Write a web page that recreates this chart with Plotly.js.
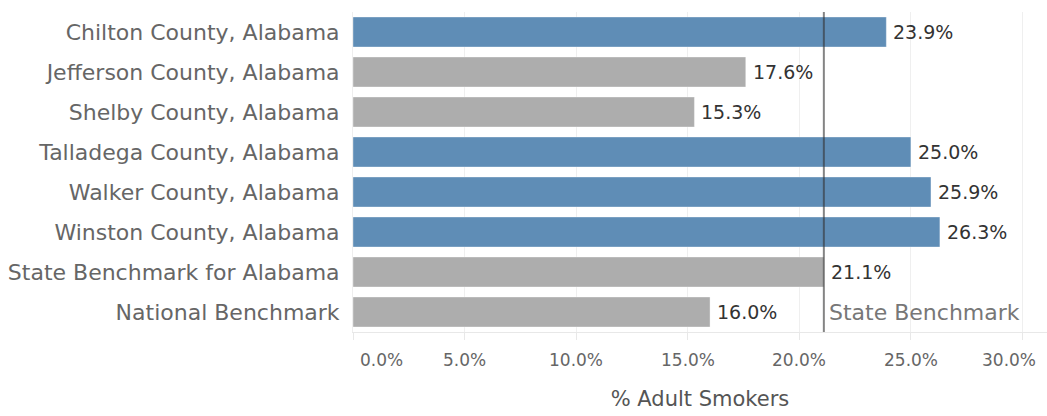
<!DOCTYPE html>
<html>
<head>
<meta charset="utf-8">
<script src="https://cdn.plot.ly/plotly-3.0.1.min.js"></script>
<style>html,body{margin:0;padding:0;background:#fff;}#chart{width:1047px;height:416px;}</style>
</head>
<body>
<div id="chart"></div>
<script>
var categories = [
  "Chilton County, Alabama",
  "Jefferson County, Alabama",
  "Shelby County, Alabama",
  "Talladega County, Alabama",
  "Walker County, Alabama",
  "Winston County, Alabama",
  "State Benchmark for Alabama",
  "National Benchmark"
];
var smokers = [23.9, 17.6, 15.3, 25.0, 25.9, 26.3, 21.1, 16.0];
var stateBenchmark = 21.1;
var tickValues = [0, 5, 10, 15, 20, 25, 30];
var tickLabels = ["0.0%", "5.0%", "10.0%", "15.0%", "20.0%", "25.0%", "30.0%"];

var WIDE = "DejaVu Sans, Open Sans, sans-serif";
var colors = categories.map(function (c, i) {
  return (c.indexOf("County") >= 0 && smokers[i] > stateBenchmark) ? "#5f8db6" : "#adadad";
});

var trace = {
  type: "bar",
  orientation: "h",
  y: categories,
  x: smokers,
  marker: { color: colors, line: { color: "rgba(255,255,255,0.35)", width: 1 } },
  hoverinfo: "none"
};

var annotations = categories.map(function (c, i) {
  return {
    x: smokers[i], y: c, xref: "x", yref: "y",
    text: smokers[i].toFixed(1) + "%",
    showarrow: false, xanchor: "left", xshift: 5,
    font: { family: WIDE, size: 19, color: "#333" }
  };
});
annotations.push({
  x: stateBenchmark, y: categories[categories.length - 1], xref: "x", yref: "y",
  text: "State Benchmark", showarrow: false, xanchor: "left", xshift: 3,
  font: { family: WIDE, size: 22, color: "#777" }
});
// x tick labels (first nudged right, last nudged left so they stay inside the frame)
tickValues.forEach(function (v, i) {
  var shift = 0;
  if (i === 0) shift = 28;
  else if (i === tickValues.length - 1) shift = -13;
  annotations.push({
    x: v, y: 0, xref: "x", yref: "paper",
    text: tickLabels[i], showarrow: false,
    xanchor: "center", yanchor: "middle", xshift: shift, yshift: -28,
    font: { family: WIDE, size: 17, color: "#666" }
  });
});

var layout = {
  width: 1047, height: 416,
  margin: { l: 353, r: 0, t: 12, b: 84 },
  paper_bgcolor: "#fff", plot_bgcolor: "#fff",
  bargap: 0.25,
  showlegend: false,
  font: { family: WIDE, color: "#666" },
  xaxis: {
    range: [0, 31.1],
    tickvals: tickValues,
    showticklabels: false,
    showgrid: true, gridcolor: "#efefef", gridwidth: 1,
    zeroline: false,
    showline: true, linecolor: "#e8e8e8", linewidth: 1,
    ticks: "outside", ticklen: 7, tickcolor: "#e8e8e8",
    title: { text: "% Adult Smokers", font: { family: WIDE, size: 21, color: "#555" }, standoff: 52 },
    fixedrange: true
  },
  yaxis: {
    autorange: "reversed",
    tickfont: { family: WIDE, size: 22, color: "#666" },
    showline: true, linecolor: "#eeeeee", linewidth: 1,
    ticks: "outside", ticklen: 8, tickcolor: "rgba(0,0,0,0)",
    showgrid: false, zeroline: false,
    fixedrange: true
  },
  shapes: [{
    type: "line", xref: "x", yref: "paper",
    x0: stateBenchmark, x1: stateBenchmark, y0: 0, y1: 1,
    line: { color: "rgba(50,50,50,0.6)", width: 2 },
    layer: "above"
  }],
  annotations: annotations
};

Plotly.newPlot("chart", [trace], layout, { displayModeBar: false, staticPlot: true });
</script>
</body>
</html>
